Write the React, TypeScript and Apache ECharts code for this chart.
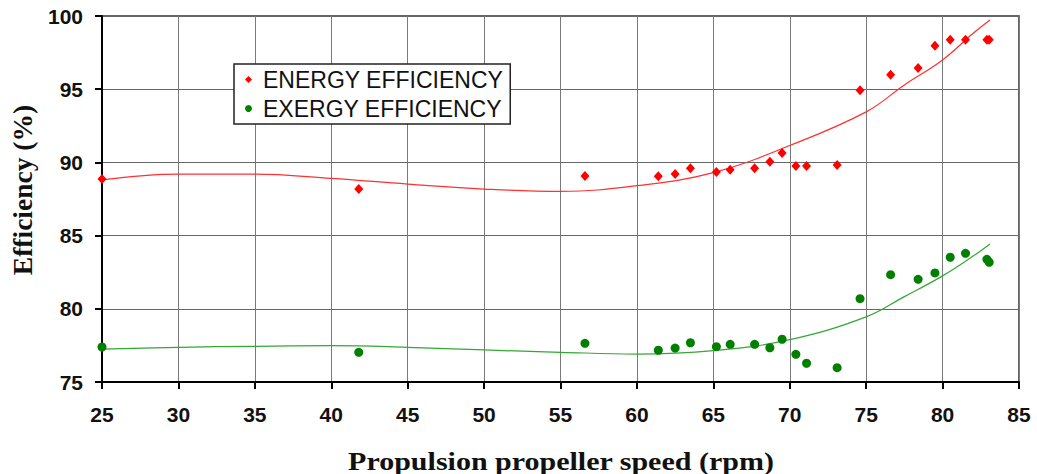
import React, { useEffect, useRef } from "react";
import * as echarts from "echarts";

// Measured points
const speeds = [25, 41.8, 56.6, 61.4, 62.5, 63.5, 65.2, 66.1, 67.7, 68.7, 69.5, 70.4, 71.1, 73.1, 74.6, 76.6, 78.4, 79.5, 80.5, 81.5, 82.9, 83.05];
const energyEff = [88.87, 88.18, 89.07, 89.05, 89.2, 89.6, 89.34, 89.5, 89.6, 90.05, 90.64, 89.75, 89.75, 89.82, 94.92, 95.99, 96.45, 97.97, 98.38, 98.38, 98.38, 98.38];
const exergyEff = [77.39, 77.03, 77.64, 77.17, 77.32, 77.68, 77.41, 77.57, 77.57, 77.34, 77.92, 76.89, 76.28, 75.98, 80.69, 82.33, 82.01, 82.45, 83.52, 83.79, 83.38, 83.18];

// Trendline points
const trendSpeeds = [25, 30, 35, 40, 45, 50, 55, 60, 65, 70, 75, 77.5, 80, 82, 83.1];
const energyTrend = [88.8, 89.2, 89.2, 88.91, 88.52, 88.18, 88.02, 88.41, 89.3, 91.15, 93.45, 95.29, 97.0, 98.82, 99.73];
const exergyTrend = [77.25, 77.37, 77.44, 77.48, 77.37, 77.19, 77.03, 76.91, 77.14, 77.89, 79.45, 80.83, 82.25, 83.6, 84.43];

const xTicks = { min: 25, max: 85, interval: 5 };
const yTicks = { min: 75, max: 100, interval: 5 };

const seriesNames = ["ENERGY EFFICIENCY", "EXERGY EFFICIENCY"];

export default function App() {
  const ref = useRef<HTMLDivElement>(null);
  useEffect(() => {
    if (!ref.current) return;
    const chart = echarts.init(ref.current, null, { renderer: "svg" });
    const pairs = (xs: number[], ys: number[]) => xs.map((x, i) => [x, ys[i]]);
    const labelFont = {
      fontFamily: "Liberation Sans, Arial, sans-serif",
      fontWeight: "bold" as const,
      fontSize: 21,
      color: "#111",
    };
    chart.setOption({
      animation: false,
      backgroundColor: "#fff",
      grid: {
        left: 102,
        right: 18,
        top: 16,
        bottom: 92,
        show: true,
        borderColor: "#333",
        borderWidth: 1.5,
        backgroundColor: "transparent",
      },
      legend: {
        data: [
          { name: seriesNames[0], icon: "diamond" },
          { name: seriesNames[1], icon: "circle" },
        ],
        orient: "vertical",
        left: 234,
        top: 64,
        padding: [4, 7, 4, 11],
        itemGap: 6,
        itemWidth: 7,
        itemHeight: 7,
        borderColor: "#222",
        borderWidth: 1.5,
        backgroundColor: "#fff",
        textStyle: {
          fontFamily: "Liberation Sans, Arial, sans-serif",
          fontSize: 23,
          color: "#111",
          padding: [0, 0, 0, 6],
        },
      },
      xAxis: {
        type: "value",
        min: xTicks.min,
        max: xTicks.max,
        interval: xTicks.interval,
        axisLine: { show: true, lineStyle: { color: "#000", width: 2 } },
        axisTick: { show: true, length: 7, lineStyle: { color: "#000", width: 2 } },
        axisLabel: { ...labelFont, margin: 22 },
        splitLine: { show: true, lineStyle: { color: "#7a7a7a", width: 1 } },
      },
      yAxis: {
        type: "value",
        min: yTicks.min,
        max: yTicks.max,
        interval: yTicks.interval,
        axisLine: { show: true, lineStyle: { color: "#000", width: 2 } },
        axisTick: { show: true, length: 7, lineStyle: { color: "#000", width: 2 } },
        axisLabel: { ...labelFont, margin: 19 },
        splitLine: { show: true, lineStyle: { color: "#666", width: 1 } },
      },
      graphic: [
        {
          type: "text",
          x: 561,
          y: 461,
          scaleX: 1.2,
          style: {
            text: "Propulsion propeller speed (rpm)",
            font: "bold 25px 'Liberation Serif', 'Times New Roman', serif",
            fill: "#111",
            align: "center",
            verticalAlign: "middle",
          },
        },
        {
          type: "text",
          x: 22,
          y: 190,
          rotation: Math.PI / 2,
          style: {
            text: "Efficiency (%)",
            font: "bold 27.5px 'Liberation Serif', 'Times New Roman', serif",
            fill: "#111",
            align: "center",
            verticalAlign: "middle",
          },
        },
      ],
      series: [
        {
          name: seriesNames[0],
          type: "scatter",
          symbol: "diamond",
          symbolSize: [9, 10],
          itemStyle: { color: "#ff0000", opacity: 1 },
          data: pairs(speeds, energyEff),
          z: 5,
        },
        {
          name: seriesNames[1],
          type: "scatter",
          symbol: "circle",
          symbolSize: 9,
          itemStyle: { color: "#007f00", opacity: 1 },
          data: pairs(speeds, exergyEff),
          z: 5,
        },
        {
          name: "energyTrend",
          type: "line",
          smooth: 0.4,
          showSymbol: false,
          symbol: "none",
          lineStyle: { color: "#ff3030", width: 1.2 },
          data: pairs(trendSpeeds, energyTrend),
          z: 4,
        },
        {
          name: "exergyTrend",
          type: "line",
          smooth: 0.4,
          showSymbol: false,
          symbol: "none",
          lineStyle: { color: "#33a833", width: 1.2 },
          data: pairs(trendSpeeds, exergyTrend),
          z: 4,
        },
      ],
    });
    return () => chart.dispose();
  }, []);
  return (
    <div
      ref={ref}
      style={{ position: "fixed", left: 0, top: 0, width: 1037, height: 474 }}
    />
  );
}
